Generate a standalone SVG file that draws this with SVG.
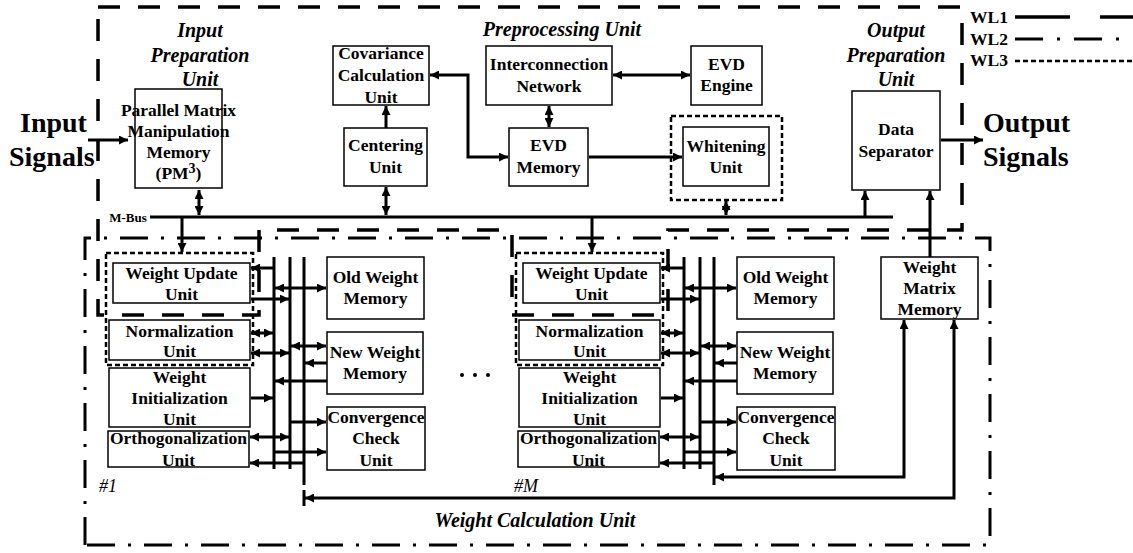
<svg xmlns="http://www.w3.org/2000/svg" width="1133" height="553" viewBox="0 0 1133 553">
<defs>
<style>
.bx{fill:#fff;stroke:#000;stroke-width:1.5}
.t{font-family:"Liberation Serif","Times New Roman",serif;font-weight:bold;font-size:17.5px;text-anchor:middle;fill:#000}
.ti{font-family:"Liberation Serif","Times New Roman",serif;font-weight:bold;font-style:italic;font-size:20px;text-anchor:middle;fill:#000}
.big{font-family:"Liberation Serif","Times New Roman",serif;font-weight:bold;font-size:28px;fill:#000}
.num{font-family:"Liberation Serif","Times New Roman",serif;font-style:italic;font-size:18px;fill:#000}
.c{stroke:#000;stroke-width:3;fill:none}
.a{marker-end:url(#ah)}
.d{marker-start:url(#ah);marker-end:url(#ah)}
.wl1{stroke:#000;stroke-width:3.5;fill:none;stroke-dasharray:22 18}
.wl2{stroke:#000;stroke-width:3;fill:none;stroke-dasharray:28 13 3 13}
.wl3{stroke:#000;stroke-width:2.5;fill:none;stroke-dasharray:5 3}
</style>
<marker id="ah" viewBox="0 0 9 9" refX="9" refY="4.5" markerWidth="9" markerHeight="9" markerUnits="userSpaceOnUse" orient="auto-start-reverse">
<path d="M0,0 L9,4.5 L0,9 Z" fill="#000"/>
</marker>
</defs>
<rect width="1133" height="553" fill="#fff"/>

<g id="boundaries">
<path class="wl1" d="M98,7 H962 V230 H668 V315 H512 V230 H259 V315 H98 Z"/>
<path class="wl2" d="M85,545 V238 H990 V545 Z"/>
<rect class="wl3" x="671" y="116" width="111" height="84"/>
<rect class="wl3" x="106" y="253" width="147" height="112"/>
<rect class="wl3" x="516" y="253" width="147" height="112"/>
</g>

<g id="legend">
<text class="t" x="970" y="23" style="text-anchor:start">WL1</text>
<text class="t" x="970" y="45" style="text-anchor:start">WL2</text>
<text class="t" x="970" y="66" style="text-anchor:start">WL3</text>
<path d="M1015,17 H1133" stroke="#000" stroke-width="3.5" stroke-dasharray="55 30"/>
<path d="M1015,39 H1133" stroke="#000" stroke-width="3" stroke-dasharray="28 14 3 14"/>
<path d="M1015,61 H1133" stroke="#000" stroke-width="2.5" stroke-dasharray="5 3"/>
</g>

<g id="labels">
<text class="big" x="20" y="132">Input</text>
<text class="big" x="9" y="166">Signals</text>
<text class="big" x="983" y="132">Output</text>
<text class="big" x="983" y="166">Signals</text>
<text class="ti" x="200" y="37">Input</text>
<text class="ti" x="200" y="62">Preparation</text>
<text class="ti" x="200" y="86">Unit</text>
<text class="ti" x="562" y="36">Preprocessing Unit</text>
<text class="ti" x="896" y="37">Output</text>
<text class="ti" x="896" y="62">Preparation</text>
<text class="ti" x="896" y="86">Unit</text>
<text class="ti" x="535" y="527">Weight Calculation Unit</text>
<text class="num" x="99" y="492">#1</text>
<text class="num" x="514" y="492">#M</text>
<text class="t" x="128" y="222" style="font-size:13px">M-Bus</text>
<circle cx="462" cy="375" r="2"/>
<circle cx="475" cy="375" r="2"/>
<circle cx="488" cy="375" r="2"/>
</g>

<g id="pm3">
<rect class="bx" x="135" y="89" width="87" height="99"/>
<text class="t" x="178.5" y="116">Parallel Matrix</text>
<text class="t" x="178.5" y="137">Manipulation</text>
<text class="t" x="178.5" y="158">Memory</text>
<text class="t" x="178.5" y="179">(PM<tspan font-size="14" dy="-6">3</tspan><tspan dy="6">)</tspan></text>
</g>
<g id="covariance">
<rect class="bx" x="333" y="46" width="96" height="59"/>
<text class="t" x="381" y="59">Covariance</text>
<text class="t" x="381" y="81">Calculation</text>
<text class="t" x="381" y="103">Unit</text>
</g>
<g id="centering">
<rect class="bx" x="344" y="128" width="83" height="58"/>
<text class="t" x="385.5" y="151">Centering</text>
<text class="t" x="385.5" y="173">Unit</text>
</g>
<g id="interconnection">
<rect class="bx" x="486" y="46" width="126" height="59"/>
<text class="t" x="549" y="70">Interconnection</text>
<text class="t" x="549" y="92">Network</text>
</g>
<g id="evd-engine">
<rect class="bx" x="691" y="46" width="71" height="59"/>
<text class="t" x="726.5" y="70">EVD</text>
<text class="t" x="726.5" y="91">Engine</text>
</g>
<g id="evd-memory">
<rect class="bx" x="509" y="128" width="79" height="58"/>
<text class="t" x="548.5" y="151">EVD</text>
<text class="t" x="548.5" y="173">Memory</text>
</g>
<g id="whitening">
<rect class="bx" x="683" y="127" width="86" height="59"/>
<text class="t" x="726" y="152">Whitening</text>
<text class="t" x="726" y="173">Unit</text>
</g>
<g id="data-separator">
<rect class="bx" x="852" y="91" width="88" height="99"/>
<text class="t" x="896" y="135">Data</text>
<text class="t" x="896" y="157">Separator</text>
</g>
<g id="weight-matrix-memory">
<rect class="bx" x="881" y="257" width="97" height="62"/>
<text class="t" x="929.5" y="273">Weight</text>
<text class="t" x="929.5" y="294">Matrix</text>
<text class="t" x="929.5" y="315">Memory</text>
</g>

<g id="wu1">
<rect class="bx" x="113" y="263" width="137" height="40"/>
<text class="t" x="181.5" y="279">Weight Update</text>
<text class="t" x="181.5" y="300">Unit</text>
</g>
<g id="norm1">
<rect class="bx" x="109" y="320" width="141" height="40"/>
<text class="t" x="179.5" y="337">Normalization</text>
<text class="t" x="179.5" y="357">Unit</text>
</g>
<g id="wi1">
<rect class="bx" x="109" y="368" width="141" height="59"/>
<text class="t" x="179.5" y="383">Weight</text>
<text class="t" x="179.5" y="404">Initialization</text>
<text class="t" x="179.5" y="425">Unit</text>
</g>
<g id="ortho1">
<rect class="bx" x="108" y="431" width="141" height="36"/>
<text class="t" x="178.5" y="444">Orthogonalization</text>
<text class="t" x="178.5" y="466">Unit</text>
</g>
<g id="owm1">
<rect class="bx" x="327" y="257" width="97" height="62"/>
<text class="t" x="375.5" y="283">Old Weight</text>
<text class="t" x="375.5" y="304">Memory</text>
</g>
<g id="nwm1">
<rect class="bx" x="327" y="332" width="96" height="62"/>
<text class="t" x="375" y="358">New Weight</text>
<text class="t" x="375" y="379">Memory</text>
</g>
<g id="cc1">
<rect class="bx" x="327" y="407" width="98" height="63"/>
<text class="t" x="376" y="423">Convergence</text>
<text class="t" x="376" y="444">Check</text>
<text class="t" x="376" y="466">Unit</text>
</g>

<g id="wuM">
<rect class="bx" x="523" y="263" width="137" height="40"/>
<text class="t" x="591.5" y="279">Weight Update</text>
<text class="t" x="591.5" y="300">Unit</text>
</g>
<g id="normM">
<rect class="bx" x="519" y="320" width="141" height="40"/>
<text class="t" x="589.5" y="337">Normalization</text>
<text class="t" x="589.5" y="357">Unit</text>
</g>
<g id="wiM">
<rect class="bx" x="519" y="368" width="141" height="59"/>
<text class="t" x="589.5" y="383">Weight</text>
<text class="t" x="589.5" y="404">Initialization</text>
<text class="t" x="589.5" y="425">Unit</text>
</g>
<g id="orthoM">
<rect class="bx" x="518" y="431" width="141" height="36"/>
<text class="t" x="588.5" y="444">Orthogonalization</text>
<text class="t" x="588.5" y="466">Unit</text>
</g>
<g id="owmM">
<rect class="bx" x="737" y="257" width="97" height="62"/>
<text class="t" x="785.5" y="283">Old Weight</text>
<text class="t" x="785.5" y="304">Memory</text>
</g>
<g id="nwmM">
<rect class="bx" x="737" y="332" width="96" height="62"/>
<text class="t" x="785" y="358">New Weight</text>
<text class="t" x="785" y="379">Memory</text>
</g>
<g id="ccM">
<rect class="bx" x="737" y="407" width="98" height="63"/>
<text class="t" x="786" y="423">Convergence</text>
<text class="t" x="786" y="444">Check</text>
<text class="t" x="786" y="466">Unit</text>
</g>

<g id="connectors">
<path class="c" d="M150,217 H893" stroke-width="3.5"/>
<path class="c a" d="M88,140 H128"/>
<path class="c d" d="M199,190 V215"/>
<path class="c d" d="M386,187 V215"/>
<path class="c a" d="M386,128 V106"/>
<path class="c d" d="M430,75 H468 V157 H508"/>
<path class="c d" d="M549,106 V127"/>
<path class="c d" d="M613,75 H690"/>
<path class="c a" d="M589,157 H682"/>
<path class="c d" d="M726,201 V215"/>
<path class="c a" d="M865,216 V191"/>
<path class="c a" d="M941,140 H983"/>
<path class="c a" d="M930,257 V191"/>
<path class="c a" d="M182,217 V252"/>
<path class="c a" d="M592,217 V252"/>

<path class="c" d="M274,257 V469 M290,257 V469 M304,257 V485"/>
<path class="c a" d="M274,268 H251"/>
<path class="c d" d="M275,288 H326"/>
<path class="c a" d="M251,299 H289"/>
<path class="c d" d="M251,333 H273"/>
<path class="c d" d="M251,353 H289"/>
<path class="c d" d="M291,346 H326"/>
<path class="c a" d="M327,363 H305"/>
<path class="c a" d="M327,381 H275"/>
<path class="c a" d="M251,398 H273"/>
<path class="c a" d="M290,422 H326"/>
<path class="c a" d="M274,452 H326"/>
<path class="c d" d="M250,437 H289"/>
<path class="c a" d="M304,463 H250"/>

<path class="c" d="M684,257 V469 M700,257 V469 M714,257 V485"/>
<path class="c a" d="M684,268 H661"/>
<path class="c d" d="M685,288 H736"/>
<path class="c a" d="M661,299 H699"/>
<path class="c d" d="M661,333 H683"/>
<path class="c d" d="M661,353 H699"/>
<path class="c d" d="M701,346 H736"/>
<path class="c a" d="M737,363 H715"/>
<path class="c a" d="M737,381 H685"/>
<path class="c a" d="M661,398 H683"/>
<path class="c a" d="M700,422 H736"/>
<path class="c a" d="M684,452 H736"/>
<path class="c d" d="M660,437 H699"/>
<path class="c a" d="M714,463 H660"/>

<path class="c d" d="M904,320 V477 H715"/>
<path class="c d" d="M954,320 V498 H305"/>
<path class="c" d="M304,490 V506" stroke-width="2.5"/>
</g>
</svg>
